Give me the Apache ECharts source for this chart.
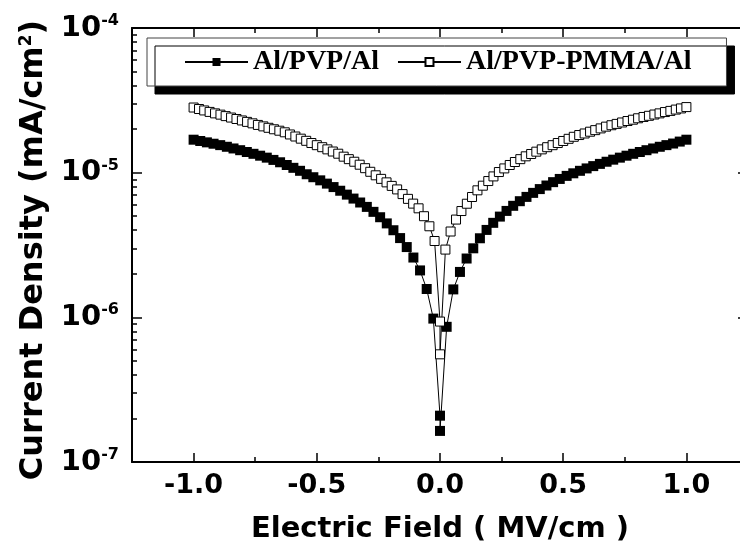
<!DOCTYPE html>
<html><head><meta charset="utf-8">
<script src="https://cdn.jsdelivr.net/npm/echarts@6/dist/echarts.min.js"></script>
<style>html,body{margin:0;padding:0;background:#fff;overflow:hidden}#c{width:750px;height:549px}</style>
</head><body><div id="c"></div>
<script>
// ---- data ----
const seriesNames = ['Al/PVP/Al', 'Al/PVP-PMMA/Al'];

// |E| (MV/cm) for Al/PVP/Al, each side of zero
const fieldPVP = [0.027,0.054,0.081,0.108,0.135,0.162,0.189,0.216,0.243,0.270,0.297,0.324,0.351,0.378,0.405,0.432,0.459,0.486,0.514,0.541,0.568,0.595,0.622,0.649,0.676,0.703,0.730,0.757,0.784,0.811,0.838,0.865,0.892,0.919,0.946,0.973,1.000];
const jPVPneg = [9.8e-7,1.57e-6,2.11e-6,2.59e-6,3.06e-6,3.53e-6,4.0e-6,4.46e-6,4.92e-6,5.36e-6,5.80e-6,6.22e-6,6.62e-6,7.05e-6,7.5e-6,7.95e-6,8.4e-6,8.85e-6,9.3e-6,9.75e-6,1.03e-5,1.08e-5,1.13e-5,1.18e-5,1.225e-5,1.27e-5,1.31e-5,1.35e-5,1.39e-5,1.43e-5,1.47e-5,1.51e-5,1.55e-5,1.585e-5,1.62e-5,1.655e-5,1.69e-5];
const jPVPzero = [2.09e-7, 1.64e-7];
const jPVPpos = [8.6e-7,1.56e-6,2.06e-6,2.55e-6,3.0e-6,3.52e-6,4.02e-6,4.5e-6,4.97e-6,5.44e-6,5.9e-6,6.35e-6,6.8e-6,7.25e-6,7.7e-6,8.15e-6,8.6e-6,9.05e-6,9.5e-6,9.9e-6,1.03e-5,1.07e-5,1.11e-5,1.15e-5,1.19e-5,1.23e-5,1.27e-5,1.31e-5,1.35e-5,1.39e-5,1.43e-5,1.47e-5,1.51e-5,1.55e-5,1.59e-5,1.64e-5,1.69e-5];

// |E| (MV/cm) for Al/PVP-PMMA/Al, each side of zero
const fieldPMMA = [0.022,0.043,0.065,0.087,0.109,0.130,0.152,0.174,0.196,0.217,0.239,0.261,0.283,0.304,0.326,0.348,0.370,0.391,0.413,0.435,0.457,0.478,0.500,0.522,0.543,0.565,0.587,0.609,0.630,0.652,0.674,0.696,0.717,0.739,0.761,0.783,0.804,0.826,0.848,0.870,0.891,0.913,0.935,0.957,0.978,1.000];
const jPMMAneg = [3.37e-6,4.26e-6,5.0e-6,5.67e-6,6.11e-6,6.59e-6,7.11e-6,7.66e-6,8.10e-6,8.57e-6,9.06e-6,9.59e-6,1.014e-5,1.074e-5,1.135e-5,1.19e-5,1.24e-5,1.29e-5,1.352e-5,1.400e-5,1.449e-5,1.500e-5,1.549e-5,1.603e-5,1.660e-5,1.718e-5,1.778e-5,1.837e-5,1.901e-5,1.950e-5,1.995e-5,2.042e-5,2.089e-5,2.138e-5,2.193e-5,2.244e-5,2.296e-5,2.350e-5,2.404e-5,2.460e-5,2.518e-5,2.570e-5,2.630e-5,2.692e-5,2.754e-5,2.82e-5];
const jPMMAzero = [9.35e-7, 5.55e-7];
const jPMMApos = [2.94e-6,3.92e-6,4.74e-6,5.43e-6,6.10e-6,6.79e-6,7.55e-6,8.13e-6,8.75e-6,9.42e-6,1.01e-5,1.07e-5,1.13e-5,1.185e-5,1.24e-5,1.297e-5,1.346e-5,1.397e-5,1.449e-5,1.500e-5,1.549e-5,1.603e-5,1.656e-5,1.714e-5,1.77e-5,1.820e-5,1.866e-5,1.919e-5,1.968e-5,2.023e-5,2.080e-5,2.128e-5,2.173e-5,2.223e-5,2.275e-5,2.323e-5,2.377e-5,2.427e-5,2.472e-5,2.523e-5,2.570e-5,2.624e-5,2.673e-5,2.729e-5,2.780e-5,2.84e-5];

// tick labels
const xTickLabels = [-1.0, -0.5, 0.0, 0.5, 1.0];
const yMinorTicks = [2e-7,3e-7,4e-7,5e-7,6e-7,7e-7,8e-7,9e-7,2e-6,3e-6,4e-6,5e-6,6e-6,7e-6,8e-6,9e-6,2e-5,3e-5,4e-5,5e-5,6e-5,7e-5,8e-5,9e-5];

// ---- build ----
function buildPoints(field, neg, zero, pos) {
  const pts = [];
  for (let i = field.length - 1; i >= 0; i--) pts.push([-field[i], neg[i]]);
  zero.forEach(v => pts.push([0, v]));
  for (let i = 0; i < field.length; i++) pts.push([field[i], pos[i]]);
  return pts;
}

const FONT = 'DejaVu Sans';
const BLACK = '#000';
const lineAx = {color: BLACK, width: 2};
const tickSt = {color: BLACK, width: 1.5};

function xAx(position, major, withLabel) {
  const a = {
    type: 'value', position, min: -1.25, max: 1.25, interval: 0.25,
    axisLine: {show: !major, onZero: false, lineStyle: lineAx},
    axisTick: {inside: true, length: major ? 9 : 5, lineStyle: tickSt},
    axisLabel: {show: false},
    splitLine: {show: false}
  };
  if (major) a.axisTick.customValues = xTickLabels;
  if (withLabel) {
    a.axisLabel = {show: true, customValues: xTickLabels, formatter: v => Number(v).toFixed(1),
      color: BLACK, fontFamily: FONT, fontWeight: 'bold', fontSize: 27, margin: 10};
    a.name = 'Electric Field ( MV/cm )';
    a.nameLocation = 'middle';
    a.nameGap = 53;
    a.nameTextStyle = {color: BLACK, fontFamily: FONT, fontWeight: 'bold', fontSize: 29};
  }
  return a;
}

const chart = echarts.init(document.getElementById('c'), null, {renderer: 'canvas'});
const option = {
  animation: false,
  backgroundColor: '#fff',
  grid: {left: 132, top: 28, width: 616, height: 434},
  legend: {
    left: 147, top: 38,
    padding: [10, 35, 10, 37],
    itemGap: 18, itemWidth: 63, itemHeight: 10,
    backgroundColor: '#fff', borderColor: '#444', borderWidth: 1,
    shadowColor: '#000', shadowBlur: 0, shadowOffsetX: 8, shadowOffsetY: 8,
    textStyle: {fontFamily: 'Liberation Serif', fontWeight: 'bold', fontSize: 28, color: BLACK},
    data: seriesNames
  },
  xAxis: [xAx('bottom', false, true), xAx('bottom', true, false), xAx('top', false, false), xAx('top', true, false)],
  yAxis: [
    {type: 'log', logBase: 10, position: 'left', min: 1e-7, max: 1e-4, interval: 1,
     axisLine: {show: true, onZero: false, lineStyle: lineAx},
     axisTick: {inside: true, length: 10, lineStyle: tickSt},
     splitLine: {show: false},
     axisLabel: {margin: 13, formatter: v => '{b|10}{s|' + Math.round(Math.log10(v)) + '}',
       rich: {
         b: {fontFamily: FONT, fontWeight: 'bold', fontSize: 29, color: BLACK, lineHeight: 30},
         s: {fontFamily: FONT, fontWeight: 'bold', fontSize: 16, color: BLACK, verticalAlign: 'top', lineHeight: 10}
       }},
     name: 'Current Density (mA/cm{sup|2})', nameLocation: 'middle', nameGap: 76,
     nameTextStyle: {color: BLACK, fontFamily: FONT, fontWeight: 'bold', fontSize: 32, padding: [0, 10, 0, 0],
       rich: {sup: {fontFamily: FONT, fontWeight: 'bold', fontSize: 17, color: BLACK, verticalAlign: 'top', lineHeight: 8}}}
    },
    {type: 'value', position: 'left', min: -7, max: -4,
     axisLine: {show: false, onZero: false}, axisLabel: {show: false}, splitLine: {show: false},
     axisTick: {inside: true, length: 5, lineStyle: tickSt, customValues: yMinorTicks.map(v => Math.log10(v))}},
    {type: 'log', logBase: 10, position: 'right', min: 1e-7, max: 1e-4, interval: 1,
     axisLine: {show: true, onZero: false, lineStyle: lineAx},
     axisTick: {inside: true, length: 10, lineStyle: tickSt},
     axisLabel: {show: false}, splitLine: {show: false}}
  ],
  series: [
    {name: seriesNames[0], type: 'line', xAxisIndex: 0, yAxisIndex: 0,
     data: buildPoints(fieldPVP, jPVPneg, jPVPzero, jPVPpos),
     symbol: 'rect', symbolSize: 10, showSymbol: true, showAllSymbol: true,
     itemStyle: {color: BLACK}, lineStyle: {color: BLACK, width: 1}, emphasis: {disabled: true}, z: 3},
    {name: seriesNames[1], type: 'line', xAxisIndex: 0, yAxisIndex: 0,
     data: buildPoints(fieldPMMA, jPMMAneg, jPMMAzero, jPMMApos),
     symbol: 'rect', symbolSize: 9, showSymbol: true, showAllSymbol: true,
     itemStyle: {color: '#fff', borderColor: BLACK, borderWidth: 1}, lineStyle: {color: BLACK, width: 1}, emphasis: {disabled: true}, z: 4}
  ]
};
chart.setOption(option);
</script>
</body></html>
